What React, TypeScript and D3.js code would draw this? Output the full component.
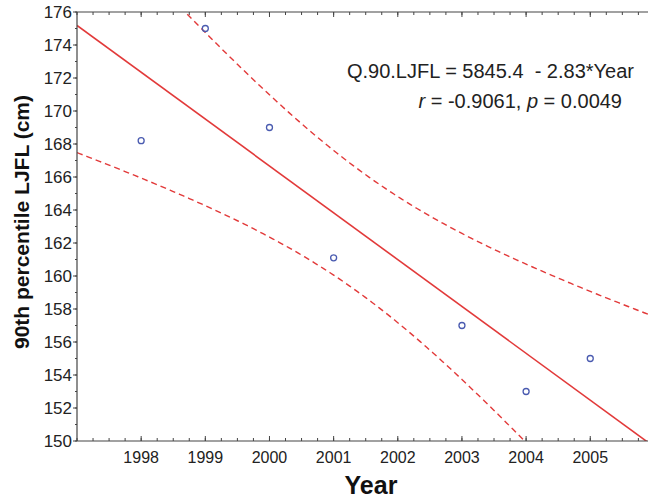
import React from 'react';
import * as d3 from 'd3';

// observed 90th percentile LJFL by year
const years = [1998, 1999, 2000, 2001, 2003, 2004, 2005];
const ljfl = [168.2, 175, 169, 161.1, 157, 153, 155];

const xTicks = [1998, 1999, 2000, 2001, 2002, 2003, 2004, 2005];
const yTicks = [150, 152, 154, 156, 158, 160, 162, 164, 166, 168, 170, 172, 174, 176];
const equation = 'Q.90.LJFL = 5845.4  - 2.83*Year';
const tCrit = 2.571; // t(0.975, df = 5)

const W = 649, H = 498;
const L = 77, R = 648, T = 12, B = 441;

const App = () => {
  const x = d3.scaleLinear().domain([1997, 2005.9]).range([L, R]);
  const y = d3.scaleLinear().domain([150, 176]).range([B, T]);

  // least squares fit + 95% band of the mean
  const n = years.length;
  const mx = d3.mean(years)!;
  const my = d3.mean(ljfl)!;
  const sxx = d3.sum(years, (v) => (v - mx) ** 2);
  const sxy = d3.sum(years, (v, i) => (v - mx) * (ljfl[i] - my));
  const slope = sxy / sxx;
  const icpt = my - slope * mx;
  const fit = (v: number) => icpt + slope * v;
  const sse = d3.sum(years, (v, i) => (ljfl[i] - fit(v)) ** 2);
  const s = Math.sqrt(sse / (n - 2));
  const half = (v: number) => tCrit * s * Math.sqrt(1 / n + (v - mx) ** 2 / sxx);

  const xs = d3.range(1997, 2005.95, 0.05);
  const line = d3.line<number>().x((v) => x(v));
  const upper = line.y((v) => y(fit(v) + half(v)))(xs)!;
  const lower = line.y((v) => y(fit(v) - half(v)))(xs)!;
  const mid = line.y((v) => y(fit(v)))([1997, 2005.9])!;

  const minorX = d3.range(1997, 2005.9, 0.25);
  const minorY = d3.range(150, 176.01, 1);
  const axisCol = '#444';
  const red = '#e23a3a';

  return (
    <svg width={W} height={H} style={{ position: 'absolute', left: 0, top: 0, background: '#fff' }}
      fontFamily="'Liberation Sans', Arial, sans-serif">
      <defs>
        <clipPath id="plot">
          <rect x={L} y={T} width={R - L + 1} height={B - T} />
        </clipPath>
      </defs>

      <g clipPath="url(#plot)">
        <path d={mid} fill="none" stroke={red} strokeWidth={1.6} />
        <path d={upper} fill="none" stroke={red} strokeWidth={1.4} strokeDasharray="6,4" />
        <path d={lower} fill="none" stroke={red} strokeWidth={1.4} strokeDasharray="6,4" />
      </g>

      {years.map((v, i) => (
        <circle key={v} cx={x(v)} cy={y(ljfl[i])} r={3} fill="none" stroke="#4a5bb0" strokeWidth={1.3} />
      ))}

      {/* frame: left, top, bottom */}
      <line x1={L} x2={L} y1={T} y2={B} stroke={axisCol} strokeWidth={1.2} />
      <line x1={L} x2={R} y1={T} y2={T} stroke={axisCol} strokeWidth={1.2} />
      <line x1={L} x2={R} y1={B} y2={B} stroke={axisCol} strokeWidth={1.2} />

      {minorX.map((v) => (
        <g key={'mx' + v}>
          <line x1={x(v)} x2={x(v)} y1={B} y2={B - 3} stroke={axisCol} />
          <line x1={x(v)} x2={x(v)} y1={T} y2={T + 3} stroke={axisCol} />
        </g>
      ))}
      {xTicks.map((v) => (
        <g key={'x' + v}>
          <line x1={x(v)} x2={x(v)} y1={B} y2={B - 5} stroke={axisCol} />
          <line x1={x(v)} x2={x(v)} y1={T} y2={T + 5} stroke={axisCol} />
          <text x={x(v)} y={B + 22} textAnchor="middle" fontSize={16} fill="#222">{v}</text>
        </g>
      ))}

      {minorY.map((v) => (
        <line key={'my' + v} x1={L} x2={L - 2} y1={y(v)} y2={y(v)} stroke={axisCol} />
      ))}
      {yTicks.map((v) => (
        <g key={'y' + v}>
          <line x1={L} x2={L - 4} y1={y(v)} y2={y(v)} stroke={axisCol} />
          <text x={L - 5} y={y(v) + 6} textAnchor="end" fontSize={17} fill="#222">{v}</text>
        </g>
      ))}

      <text x={371} y={494} textAnchor="middle" fontSize={25} fontWeight="bold" fill="#111">Year</text>
      <text transform={`translate(29,222) rotate(-90)`} textAnchor="middle" fontSize={21} fontWeight="bold" fill="#111">
        90th percentile LJFL (cm)
      </text>

      <text x={634} y={78} textAnchor="end" fontSize={20} fill="#222" style={{ whiteSpace: 'pre' }}>{equation}</text>
      <text x={622} y={108} textAnchor="end" fontSize={20} fill="#222">
        <tspan fontStyle="italic">r</tspan>
        <tspan> = -0.9061, </tspan>
        <tspan fontStyle="italic">p</tspan>
        <tspan> = 0.0049</tspan>
      </text>
    </svg>
  );
};

export default App;
